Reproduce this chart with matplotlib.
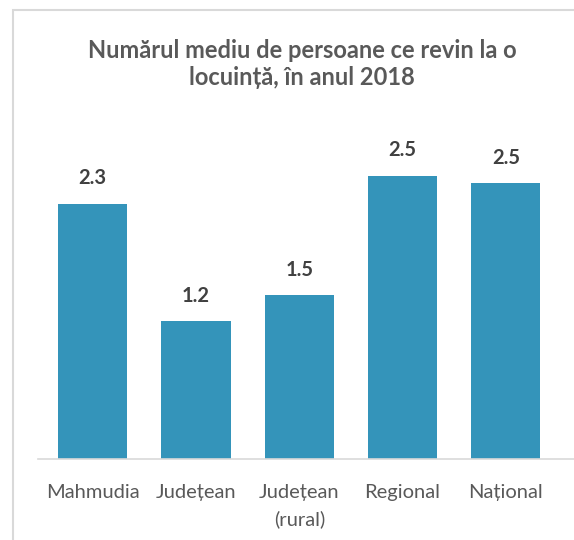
import matplotlib
matplotlib.use('Agg')
import matplotlib.pyplot as plt
from matplotlib.patches import Rectangle

categories = ['Mahmudia', 'Județean', 'Județean\n(rural)', 'Regional', 'Național']
values = [2.28, 1.23, 1.46, 2.53, 2.46]
labels = ['2.3', '1.2', '1.5', '2.5', '2.5']

plt.rcParams['font.family'] = ['Lato', 'DejaVu Sans']

fig = plt.figure(figsize=(5.74, 5.40), dpi=100)

# outer chart frame (cropped on right and bottom)
fig.patches.append(Rectangle((13/574, -0.1), 1.2, 1 - 10/540 + 0.1,
                             transform=fig.transFigure, fill=False,
                             edgecolor='#D9D9D9', linewidth=1.5))

ax = fig.add_axes([38/574, 1 - 459/540, 1 - 38/574, 319/540])
x = range(len(categories))
ax.bar(x, values, width=0.67, color='#3494BA')
for xi, v, lab in zip(x, values, labels):
    ax.annotate(lab, (xi, v), xytext=(0, 11), textcoords='offset points',
                ha='center', va='bottom', fontsize=14.5, fontweight='bold',
                color='#404040')

ax.set_xlim(-0.53, 4.66)
ax.set_ylim(0, 319/112)
ax.set_xticks(list(x))
ax.set_xticklabels(categories, fontsize=14.5, color='#595959', linespacing=1.65)
ax.tick_params(axis='x', length=0, pad=18)
ax.set_yticks([])
for s in ['top', 'right', 'left']:
    ax.spines[s].set_visible(False)
ax.spines['bottom'].set_color('#D9D9D9')
ax.spines['bottom'].set_linewidth(1.2)

fig.text(302/574, 1 - 64/540, 'Numărul mediu de persoane ce revin la o\nlocuință, în anul 2018',
         ha='center', va='center', fontsize=17, fontweight='bold',
         color='#595959', linespacing=1.2)

fig.savefig('out.png', dpi=100)
